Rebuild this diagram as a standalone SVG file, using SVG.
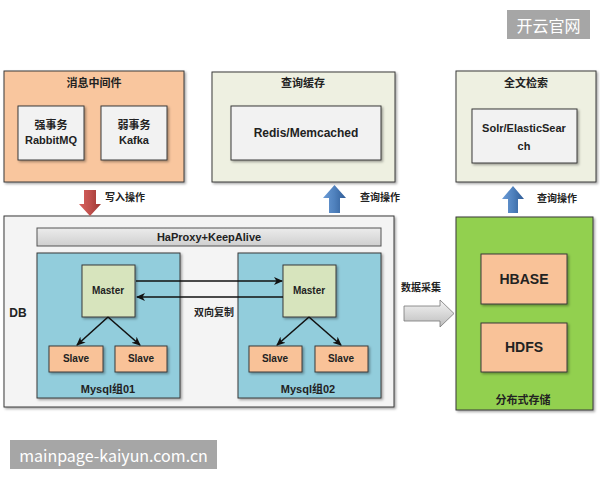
<svg xmlns="http://www.w3.org/2000/svg" width="600" height="480" viewBox="0 0 600 480">
<defs>
<style>
.t{font-family:"Liberation Sans","Noto Sans CJK SC",sans-serif;font-weight:bold;fill:#222;text-anchor:middle;dominant-baseline:central}
.box{stroke:#3a3a3a;stroke-width:1;filter:url(#sh)}
.in{fill:#f2f2f2;stroke:#3a3a3a;stroke-width:1;filter:url(#sh)}
.sl{fill:#f9c298;stroke:#3a3a3a;stroke-width:1;filter:url(#sh)}
.ms{fill:#d7e4bd;stroke:#3a3a3a;stroke-width:1;filter:url(#sh)}
.ln{stroke:#111;stroke-width:1.6;fill:none;marker-end:url(#ah)}
.wm{fill:#a6a6a6}
.wt{font-family:"Noto Sans CJK SC","Liberation Sans",sans-serif;fill:#fff;dominant-baseline:central;text-anchor:middle}
</style>
<filter id="sh" x="-10%" y="-10%" width="130%" height="130%">
<feDropShadow dx="1.5" dy="1.5" stdDeviation="1" flood-color="#000" flood-opacity="0.35"/>
</filter>
<marker id="ah" markerWidth="10" markerHeight="10" refX="8" refY="5" orient="auto" markerUnits="userSpaceOnUse">
<path d="M0,1 L9,5 L0,9 L2.5,5 Z" fill="#111"/>
</marker>
<linearGradient id="red" x1="0" y1="0" x2="1" y2="0"><stop offset="0" stop-color="#d9625e"/><stop offset="0.5" stop-color="#c0504d"/><stop offset="1" stop-color="#9c3531"/></linearGradient>
<linearGradient id="blue" x1="0" y1="0" x2="1" y2="0"><stop offset="0" stop-color="#6b9bd6"/><stop offset="0.5" stop-color="#4f81bd"/><stop offset="1" stop-color="#2f5c96"/></linearGradient>
<linearGradient id="gray" x1="0" y1="0" x2="0" y2="1"><stop offset="0" stop-color="#f4f4f4"/><stop offset="1" stop-color="#bdbdbd"/></linearGradient>
<linearGradient id="bar" x1="0" y1="0" x2="0" y2="1"><stop offset="0" stop-color="#ececec"/><stop offset="1" stop-color="#cfcfcf"/></linearGradient>
</defs>
<rect width="600" height="480" fill="#fff"/>

<g id="mq">
<rect class="box" x="4" y="71" width="180" height="111" fill="#f9c69e"/>
<text class="t" x="94" y="83" font-size="11">消息中间件</text>
<rect class="in" x="18" y="106" width="66" height="54"/>
<text class="t" x="51" y="125" font-size="11">强事务</text>
<text class="t" x="51" y="140" font-size="11">RabbitMQ</text>
<rect class="in" x="101" y="106" width="66" height="54"/>
<text class="t" x="134" y="125" font-size="11">弱事务</text>
<text class="t" x="134" y="140" font-size="11">Kafka</text>
</g>

<g id="cache">
<rect class="box" x="212" y="72" width="183" height="110" fill="#eef0e1"/>
<text class="t" x="303" y="83" font-size="11">查询缓存</text>
<rect class="in" x="231" y="106" width="150" height="54"/>
<text class="t" x="306" y="133" font-size="12">Redis/Memcached</text>
</g>

<g id="search">
<rect class="box" x="456" y="71" width="140" height="111" fill="#eef0e1"/>
<text class="t" x="526" y="83" font-size="11">全文检索</text>
<rect class="in" x="472" y="109" width="105" height="54"/>
<text class="t" x="524" y="128" font-size="11">Solr/ElasticSear</text>
<text class="t" x="524" y="146" font-size="11">ch</text>
</g>

<g id="db">
<rect class="box" x="4" y="216" width="390" height="191" fill="#f4f4f4"/>
<text class="t" x="18" y="313" font-size="12">DB</text>
<rect x="37" y="228" width="344" height="18" fill="url(#bar)" stroke="#555" stroke-width="1"/>
<text class="t" x="209" y="237" font-size="11">HaProxy+KeepAlive</text>
</g>

<g id="group01">
<rect class="box" x="37" y="253" width="143" height="145" fill="#92cddc"/>
<text class="t" x="108" y="389" font-size="11">Mysql组01</text>
</g>
<g id="master1"><rect class="ms" x="82" y="265" width="53" height="52"/><text class="t" x="108" y="290" font-size="10">Master</text></g>
<g id="slave1"><rect class="sl" x="49" y="346" width="54" height="26"/><text class="t" x="76" y="358" font-size="10">Slave</text></g>
<g id="slave2"><rect class="sl" x="115" y="346" width="52" height="26"/><text class="t" x="141" y="358" font-size="10">Slave</text></g>

<g id="group02">
<rect class="box" x="238" y="253" width="143" height="145" fill="#92cddc"/>
<text class="t" x="308" y="389" font-size="11">Mysql组02</text>
</g>
<g id="master2"><rect class="ms" x="283" y="265" width="53" height="52"/><text class="t" x="309" y="290" font-size="10">Master</text></g>
<g id="slave3"><rect class="sl" x="249" y="346" width="53" height="26"/><text class="t" x="275" y="358" font-size="10">Slave</text></g>
<g id="slave4"><rect class="sl" x="315" y="346" width="53" height="26"/><text class="t" x="341" y="358" font-size="10">Slave</text></g>

<g id="storage">
<rect class="box" x="456" y="217" width="137" height="193" fill="#92d050"/>
<rect class="sl" x="481" y="254" width="86" height="50"/>
<text class="t" x="524" y="279" font-size="14">HBASE</text>
<rect class="sl" x="481" y="323" width="86" height="49"/>
<text class="t" x="524" y="347" font-size="14">HDFS</text>
<text class="t" x="523" y="400" font-size="11">分布式存储</text>
</g>

<g id="connectors">
<path class="ln" d="M108,317 L77,345"/>
<path class="ln" d="M108,317 L140,345"/>
<path class="ln" d="M309,317 L277,345"/>
<path class="ln" d="M309,317 L341,345"/>
<path class="ln" d="M136,281 L282,281"/>
<path class="ln" d="M283,297 L137,297"/>
<text class="t" x="214" y="312" font-size="10">双向复制</text>
<path d="M84,190 L96,190 L96,204 L101,204 L90,216 L79,204 L84,204 Z" fill="url(#red)"/>
<text class="t" x="125" y="197" font-size="10">写入操作</text>
<path d="M329,213 L329,198 L323,198 L334.5,185 L346,198 L340,198 L340,213 Z" fill="url(#blue)"/>
<text class="t" x="380" y="197" font-size="10">查询操作</text>
<path d="M508,213 L508,199 L502,199 L513,186 L524,199 L518,199 L518,213 Z" fill="url(#blue)"/>
<text class="t" x="557" y="198" font-size="10">查询操作</text>
<path d="M404,306 L440,306 L440,300 L454,313.5 L440,327 L440,321 L404,321 Z" fill="url(#gray)" stroke="#777" stroke-width="0.8"/>
<text class="t" x="421" y="287" font-size="10">数据采集</text>
</g>

<g id="watermarks">
<rect class="wm" x="507" y="10" width="83" height="29"/>
<text class="wt" x="548.5" y="25" font-size="16">开云官网</text>
<rect class="wm" x="10" y="440" width="207" height="29"/>
<text class="wt" x="113.5" y="455" font-size="16">mainpage-kaiyun.com.cn</text>
</g>
</svg>
